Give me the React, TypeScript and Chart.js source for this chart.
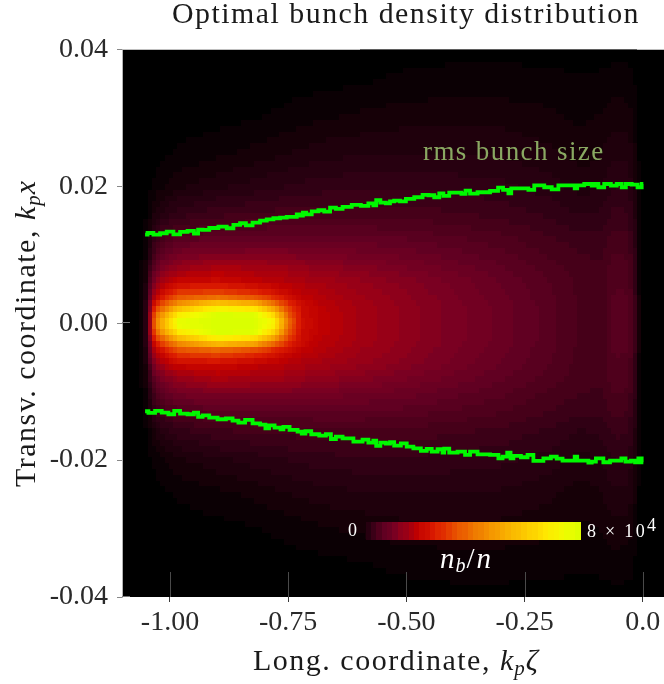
import React, { useEffect, useRef } from "react";
import { Chart, registerables } from "chart.js";

Chart.register(...registerables);

const titleText = "Optimal bunch density distribution";
const xTickValues = [-1, -0.75, -0.5, -0.25, 0];
const xTickLabels = ["-1.00", "-0.75", "-0.50", "-0.25", "0.0"];
const yTickValues = [-0.04, -0.02, 0, 0.02, 0.04];
const yTickLabels = ["-0.04", "-0.02", "0.00", "0.02", "0.04"];

const upperX = [-1.0527,-1.0421,-1.028,-1.0139,-0.9998,-0.9857,-0.9716,-0.954,-0.9448,-0.9363,-0.9258,-0.9082,-0.887,-0.8729,-0.8588,-0.8447,-0.8341,-0.8165,-0.8024,-0.7883,-0.7742,-0.7601,-0.746,-0.7354,-0.7283,-0.7213,-0.7164,-0.7072,-0.6931,-0.679,-0.6684,-0.6543,-0.6437,-0.6261,-0.605,-0.5874,-0.5733,-0.5663,-0.5613,-0.5487,-0.5381,-0.5311,-0.5205,-0.5063,-0.4957,-0.471,-0.4604,-0.4463,-0.4357,-0.4251,-0.4181,-0.4005,-0.3864,-0.3807,-0.3688,-0.3617,-0.3371,-0.3088,-0.3032,-0.2877,-0.2806,-0.2757,-0.2453,-0.2383,-0.2207,-0.196,-0.189,-0.1679,-0.1467,-0.1411,-0.1361,-0.1114,-0.1044,-0.0973,-0.0903,-0.0727,-0.0621,-0.048,-0.041,-0.0304,-0.0163,-0.0057,0.0013];
const upperY = [0.01295,0.01319,0.01295,0.01315,0.01339,0.013,0.01334,0.01349,0.0131,0.01368,0.01363,0.01392,0.01412,0.01388,0.01436,0.01461,0.01431,0.0147,0.015,0.01519,0.01534,0.01543,0.01553,0.01553,0.01592,0.01573,0.01616,0.01592,0.01636,0.01651,0.01631,0.0169,0.0167,0.01699,0.01729,0.01714,0.01753,0.01724,0.01797,0.01763,0.01753,0.01782,0.01792,0.01782,0.01816,0.01841,0.01875,0.0187,0.01841,0.01899,0.0186,0.01909,0.01909,0.01889,0.01938,0.01894,0.01914,0.01933,0.01982,0.01948,0.01899,0.01972,0.01972,0.01948,0.02016,0.01987,0.01957,0.02016,0.02016,0.01972,0.02016,0.02035,0.02011,0.02035,0.01987,0.02035,0.02011,0.02035,0.01987,0.02035,0.02026,0.01987,0.02035];
const lowerX = [-1.0527,-1.0386,-1.0245,-1.0104,-0.9963,-0.9857,-0.9716,-0.954,-0.9448,-0.9363,-0.9258,-0.9082,-0.8905,-0.8729,-0.8623,-0.8482,-0.8341,-0.8165,-0.8024,-0.7939,-0.7869,-0.7707,-0.7615,-0.7587,-0.7354,-0.7248,-0.7178,-0.7093,-0.6931,-0.6755,-0.6649,-0.6543,-0.6437,-0.6261,-0.5979,-0.5874,-0.5733,-0.5663,-0.5613,-0.5487,-0.5381,-0.5311,-0.5205,-0.5028,-0.4957,-0.4746,-0.464,-0.4499,-0.4428,-0.4251,-0.4217,-0.4181,-0.4005,-0.3829,-0.3688,-0.3617,-0.3371,-0.3088,-0.3018,-0.2912,-0.2821,-0.2771,-0.2701,-0.2453,-0.2419,-0.2207,-0.1996,-0.189,-0.1749,-0.1643,-0.1467,-0.1411,-0.1361,-0.1185,-0.1114,-0.1044,-0.0938,-0.0727,-0.0656,-0.048,-0.0424,-0.0304,-0.0198,-0.0128,-0.0057,0.0013];
const lowerY = [-0.01286,-0.01311,-0.01281,-0.01306,-0.0133,-0.01281,-0.0132,-0.0133,-0.01306,-0.01369,-0.01345,-0.01379,-0.01403,-0.01389,-0.01423,-0.01452,-0.01413,-0.01462,-0.01481,-0.01535,-0.01491,-0.01525,-0.01549,-0.01515,-0.01559,-0.01583,-0.01613,-0.01578,-0.01622,-0.01642,-0.01622,-0.01691,-0.01656,-0.01681,-0.0173,-0.017,-0.01744,-0.01715,-0.01793,-0.01744,-0.01759,-0.01739,-0.01788,-0.01754,-0.01803,-0.01827,-0.01866,-0.01837,-0.01876,-0.01841,-0.0189,-0.01832,-0.0189,-0.01876,-0.01924,-0.01876,-0.01915,-0.01924,-0.01973,-0.01949,-0.0189,-0.01973,-0.01939,-0.01958,-0.01924,-0.02012,-0.01973,-0.01949,-0.01978,-0.02007,-0.02007,-0.01949,-0.02007,-0.02007,-0.02036,-0.02022,-0.01973,-0.02031,-0.02007,-0.02007,-0.01973,-0.02022,-0.02007,-0.02031,-0.01973,-0.02031];

// density grid, in units of the colour-bar maximum; rows are |x|, columns are zeta
const gridZeta = [-1.065,-1.05,-1.04,-1.03,-1.01,-0.98,-0.9,-0.82,-0.78,-0.75,-0.72,-0.68,-0.6,-0.5,-0.4,-0.3,-0.2,-0.13,-0.09,-0.06,-0.03,-0.015,-0.005,0.05];
const gridX = [0,0.0015,0.0025,0.004,0.006,0.008,0.0105,0.013,0.016,0.02,0.025,0.03,0.035,0.04];
const density = [
  [0,.07,.30,.56,.76,1,1,1,.92,.52,.32,.28,.24,.21,.18,.155,.125,.10,.095,.122,.12,.07,0,0],
  [0,.07,.28,.48,.64,.84,1,.98,.76,.46,.31,.28,.24,.21,.18,.155,.125,.10,.095,.122,.12,.07,0,0],
  [0,.06,.24,.38,.50,.64,.82,.74,.56,.40,.31,.27,.24,.21,.18,.155,.125,.10,.095,.121,.119,.07,0,0],
  [0,.05,.19,.27,.35,.44,.47,.42,.36,.31,.28,.26,.23,.205,.175,.15,.122,.10,.095,.12,.118,.07,0,0],
  [0,.04,.14,.20,.26,.30,.31,.28,.27,.26,.25,.24,.22,.195,.17,.145,.12,.098,.094,.118,.115,.068,0,0],
  [0,.03,.10,.15,.19,.22,.25,.24,.235,.23,.22,.21,.195,.175,.155,.135,.112,.095,.092,.114,.11,.065,0,0],
  [0,.02,.07,.105,.135,.16,.175,.175,.175,.175,.17,.165,.16,.15,.135,.12,.10,.09,.088,.105,.10,.06,0,0],
  [0,.012,.045,.075,.095,.11,.125,.13,.13,.13,.13,.13,.13,.125,.115,.105,.09,.078,.078,.095,.09,.05,0,0],
  [0,.006,.02,.04,.055,.07,.085,.09,.095,.095,.095,.098,.098,.097,.092,.085,.073,.06,.065,.08,.078,.04,0,0],
  [0,.002,.006,.012,.022,.032,.045,.055,.06,.063,.066,.07,.072,.073,.07,.066,.056,.042,.048,.063,.062,.03,0,0],
  [0,0,0,.002,.005,.009,.016,.025,.03,.034,.037,.042,.046,.048,.048,.046,.038,.028,.033,.046,.044,.02,0,0],
  [0,0,0,0,0,0,.002,.006,.009,.012,.015,.019,.024,.03,.031,.03,.025,.018,.022,.03,.028,.012,0,0],
  [0,0,0,0,0,0,0,0,0,.001,.002,.003,.006,.011,.014,.014,.012,.009,.011,.015,.013,.005,0,0],
  [0,0,0,0,0,0,0,0,0,0,0,0,0,.001,.002,.002,.002,.001,.001,.002,.002,0,0,0],
];

const colorStops: [number, number[]][] = [
  [0, [0, 0, 0]], [0.03, [24, 0, 8]], [0.07, [48, 0, 20]], [0.10, [72, 0, 26]], [0.14, [98, 0, 34]],
  [0.18, [122, 0, 34]], [0.22, [150, 0, 24]], [0.28, [192, 0, 0]], [0.36, [220, 28, 0]], [0.45, [232, 80, 0]],
  [0.55, [240, 128, 0]], [0.65, [248, 168, 0]], [0.75, [252, 200, 0]], [0.85, [255, 232, 0]], [0.93, [240, 252, 0]], [1, [218, 255, 0]],
];

function colorAt(v: number) {
  const q = Math.round(Math.min(1, Math.max(0, v)) * 72) / 72;
  for (let i = 1; i < colorStops.length; i++) {
    const [b, cb] = colorStops[i];
    const [a, ca] = colorStops[i - 1];
    if (q <= b) {
      const t = (q - a) / (b - a);
      return `rgb(${ca.map((c, k) => Math.round(c + (cb[k] - c) * t)).join(",")})`;
    }
  }
  return "rgb(218,255,0)";
}

function bracket(arr: number[], v: number): [number, number] {
  if (v <= arr[0]) return [0, 0];
  for (let i = 1; i < arr.length; i++) {
    if (v <= arr[i]) return [i - 1, (v - arr[i - 1]) / (arr[i] - arr[i - 1])];
  }
  return [arr.length - 2, 1];
}

function densityAt(z: number, x: number) {
  const [i, s] = bracket(gridZeta, z);
  const [j, t] = bracket(gridX, Math.abs(x));
  const r0 = density[j], r1 = density[Math.min(j + 1, density.length - 1)];
  const i1 = Math.min(i + 1, gridZeta.length - 1);
  return (r0[i] * (1 - s) + r0[i1] * s) * (1 - t) + (r1[i] * (1 - s) + r1[i1] * s) * t;
}

const SERIF = '"Liberation Serif"';

type Run = { t: string; font: string; dy?: number; sp?: number };
function drawRuns(ctx: CanvasRenderingContext2D, runs: Run[], x: number, y: number) {
  let cx = x;
  for (const r of runs) {
    ctx.font = r.font;
    (ctx as any).letterSpacing = `${r.sp ?? 0}px`;
    ctx.fillText(r.t, cx, y + (r.dy ?? 0));
    cx += ctx.measureText(r.t).width;
  }
  (ctx as any).letterSpacing = "0px";
}

const heatmapPlugin = {
  id: "heatmap",
  beforeDraw(chart: any) {
    const { ctx, chartArea: a, scales } = chart;
    ctx.save();
    ctx.beginPath();
    ctx.rect(a.left, a.top, a.right - a.left, a.bottom - a.top);
    ctx.clip();
    ctx.fillStyle = "#000";
    ctx.fillRect(a.left, a.top, a.right - a.left, a.bottom - a.top);
    const dz = 0.009, dx = 0.00085;
    for (let z = scales.x.min; z < scales.x.max; z += dz) {
      for (let x = scales.y.min; x < scales.y.max; x += dx) {
        const v = densityAt(z + dz / 2, x + dx / 2);
        if (v <= 0) continue;
        const l = scales.x.getPixelForValue(z), r = scales.x.getPixelForValue(z + dz);
        const b = scales.y.getPixelForValue(x), t = scales.y.getPixelForValue(x + dx);
        ctx.fillStyle = colorAt(v);
        ctx.fillRect(Math.round(l), Math.round(t), Math.round(r) - Math.round(l), Math.round(b) - Math.round(t));
      }
    }
    ctx.restore();
  },
  afterLayout(chart: any) {
    const tb = chart.titleBlock;
    if (!tb || tb.__done) return;
    tb.__done = true;
    const orig = tb.draw;
    tb.draw = function () {
      this.left = 172; this.right = 640; this.top = -3;
      (chart.ctx as any).letterSpacing = "1.5px";
      orig.call(this);
      (chart.ctx as any).letterSpacing = "0px";
    };
  },
  afterDraw(chart: any) {
    const { ctx, chartArea: a, scales } = chart;
    ctx.save();
    // inner part of the ticks
    ctx.lineWidth = 1;
    ctx.strokeStyle = "#4a4a4a";
    for (const v of xTickValues) {
      const p = Math.round(scales.x.getPixelForValue(v)) + 0.5;
      ctx.beginPath(); ctx.moveTo(p, a.bottom - 25); ctx.lineTo(p, a.bottom); ctx.stroke();
    }
    ctx.strokeStyle = "#777";
    for (const v of [0, -0.04]) {
      const p = Math.round(scales.y.getPixelForValue(v)) - 0.5;
      ctx.beginPath(); ctx.moveTo(a.left, p); ctx.lineTo(a.left + 8, p); ctx.stroke();
    }

    // curve label
    ctx.textBaseline = "alphabetic";
    ctx.textAlign = "left";
    ctx.fillStyle = "#8aa862";
    drawRuns(ctx, [{ t: "rms bunch size", font: `27px ${SERIF}`, sp: 1.4 }], 423, 160);

    // colour bar
    const barL = 366, barR = 581, barT = 522, barB = 540, steps = 40;
    for (let i = 0; i < steps; i++) {
      ctx.fillStyle = colorAt(0.05 + (0.95 * (i + 0.5)) / steps);
      const l = Math.floor(barL + ((barR - barL) * i) / steps);
      const r = Math.floor(barL + ((barR - barL) * (i + 1)) / steps);
      ctx.fillRect(l, barT, r - l, barB - barT);
    }
    ctx.fillStyle = "#fff";
    drawRuns(ctx, [{ t: "0", font: `18px ${SERIF}` }], 348, 536);
    drawRuns(ctx, [
      { t: "8 × 10", font: `18px ${SERIF}`, sp: 2.3 },
      { t: "4", font: `18px ${SERIF}`, dy: -6 },
    ], 587, 537);
    drawRuns(ctx, [
      { t: "n", font: `italic 29px ${SERIF}`, sp: 1 },
      { t: "b", font: `italic 20px ${SERIF}`, dy: 4, sp: 1 },
      { t: "/", font: `29px ${SERIF}`, sp: 2 },
      { t: "n", font: `italic 29px ${SERIF}` },
    ], 440, 568);

    // axis titles
    ctx.fillStyle = "#1a1a1a";
    drawRuns(ctx, [
      { t: "Long. coordinate, ", font: `30px ${SERIF}`, sp: 1.5 },
      { t: "k", font: `italic 30px ${SERIF}`, sp: 1 },
      { t: "p", font: `italic 21px ${SERIF}`, dy: 5, sp: 1 },
      { t: "ζ", font: `italic 30px ${SERIF}` },
    ], 253, 670);
    ctx.translate(35, 487);
    ctx.rotate(-Math.PI / 2);
    drawRuns(ctx, [
      { t: "Transv. coordinate, ", font: `30px ${SERIF}`, sp: 1.5 },
      { t: "k", font: `italic 30px ${SERIF}`, sp: 1 },
      { t: "p", font: `italic 21px ${SERIF}`, dy: 5, sp: 1 },
      { t: "x", font: `italic 30px ${SERIF}` },
    ], 0, 0);
    ctx.restore();
  },
};

export default function App() {
  const ref = useRef<HTMLCanvasElement>(null);
  useEffect(() => {
    const chart = new Chart(ref.current!, {
      type: "scatter",
      plugins: [heatmapPlugin],
      data: {
        datasets: [
          { label: "rms bunch size (upper)", data: upperX.map((x, i) => ({ x, y: upperY[i] })) },
          { label: "rms bunch size (lower)", data: lowerX.map((x, i) => ({ x, y: lowerY[i] })) },
        ].map((d) => ({ ...d, showLine: true, stepped: "middle" as const, borderColor: "#00f800", borderWidth: 3.8, pointRadius: 0, tension: 0, borderJoinStyle: "miter" as const })),
      },
      options: {
        animation: false,
        responsive: false,
        devicePixelRatio: 1,
        layout: { padding: 0 },
        plugins: {
          legend: { display: false },
          tooltip: { enabled: false },
          title: {
            display: true,
            text: titleText,
            color: "#1a1a1a",
            font: { family: SERIF, size: 30, weight: "normal", lineHeight: 1.2 },
            padding: { top: 0, bottom: 13.5 },
          },
        },
        scales: {
          x: {
            type: "linear",
            min: -1.1015,
            max: 0.045,
            afterFit(s: any) { s.height = 87; s.paddingLeft = 0; s.paddingRight = 0; },
            afterBuildTicks(s: any) { s.ticks = xTickValues.map((value) => ({ value })); },
            border: { display: false },
            grid: { drawOnChartArea: false, drawTicks: true, tickLength: 5, color: "#3a3a3a", lineWidth: 1 },
            ticks: {
              autoSkip: false, maxRotation: 0, padding: 4, color: "#2a2a2a",
              font: { family: SERIF, size: 28 },
              callback: (v: any) => xTickLabels[xTickValues.indexOf(Number(v))] ?? "",
            },
          },
          y: {
            type: "linear",
            min: -0.04,
            max: 0.04,
            afterFit(s: any) { s.width = 122; s.paddingTop = 0; s.paddingBottom = 0; },
            afterBuildTicks(s: any) { s.ticks = yTickValues.map((value) => ({ value })); },
            border: { display: true, color: "#b4b4b4", width: 1 },
            grid: { drawOnChartArea: false, drawTicks: true, tickLength: 5, color: "#888", lineWidth: 1 },
            ticks: {
              autoSkip: false, padding: 9, color: "#2a2a2a",
              font: { family: SERIF, size: 28 },
              callback: (v: any) => yTickLabels[yTickValues.indexOf(Number(v))] ?? "",
            },
          },
        },
      },
    } as any);
    return () => chart.destroy();
  }, []);
  return (
    <div style={{ position: "absolute", left: 0, top: 0, width: 664, height: 684, background: "#fff" }}>
      <canvas ref={ref} width={664} height={684} style={{ display: "block" }} />
    </div>
  );
}
